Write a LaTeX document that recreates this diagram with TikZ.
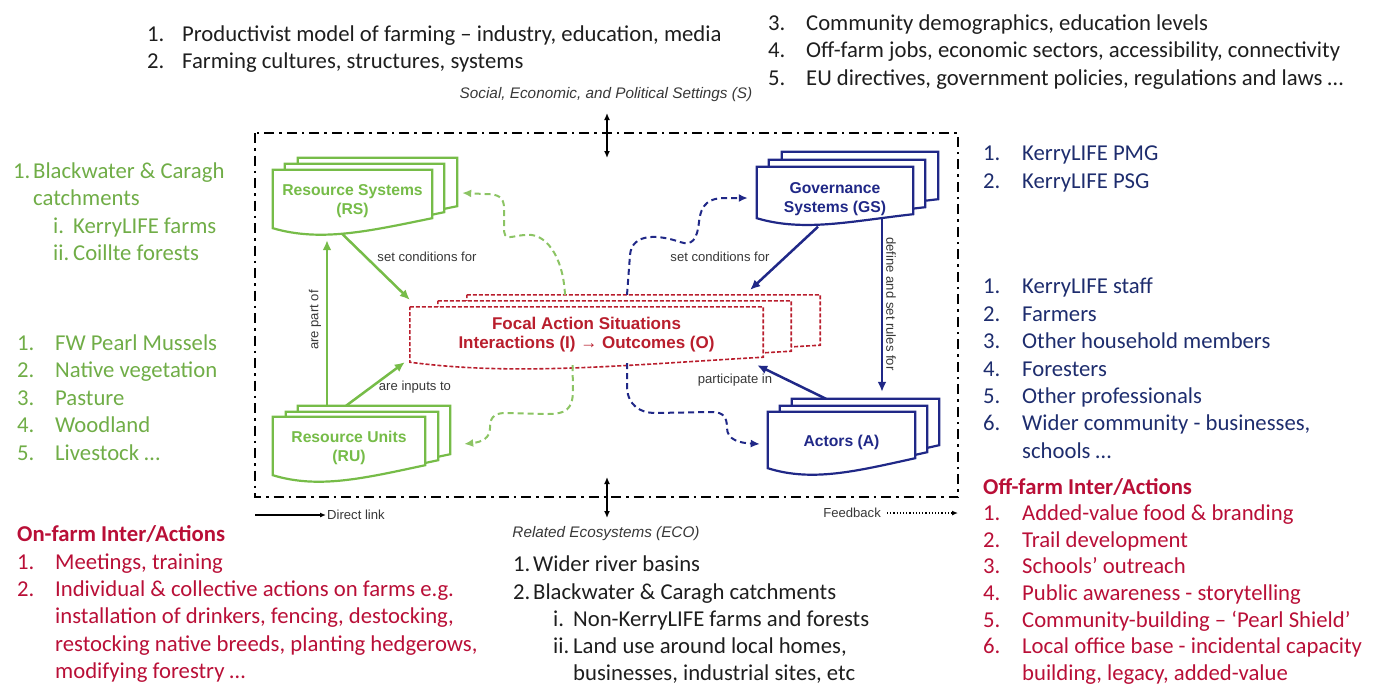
\documentclass[tikz,border=0pt]{standalone}
\usepackage{fontspec}
\setmainfont{Carlito}
\newfontfamily\arialfont{Liberation Sans}
\usetikzlibrary{positioning, calc, backgrounds, arrows.meta}

\definecolor{rsgreen}{RGB}{118,188,72}
\definecolor{fbgreen}{RGB}{140,196,100}
\definecolor{listgreen}{RGB}{112,173,71}
\definecolor{gsblue}{RGB}{32,40,135}
\definecolor{listblue}{RGB}{30,45,110}
\definecolor{focred}{RGB}{185,30,45}
\definecolor{listred}{RGB}{185,15,55}
\definecolor{lblgray}{RGB}{55,55,55}
\definecolor{txtblack}{RGB}{30,30,30}

\newcommand{\itm}[3][38pt]{\makebox[#1][l]{#2}#3}
\newcommand{\docpath}[3]{%
    ($(#1.north west)+(#2)$) -- ($(#1.north east)+(#2)$)
    -- ($(#1.south east)+(#2)+(0,-#3)$)
    .. controls ($(#1.south west)!0.6!(#1.south east)+(#2)+(0,3)$)
    and ($(#1.south west)!0.3!(#1.south east)+(#2)+(0,14)$)
    .. ($(#1.south west)+(#2)$) -- cycle}
\newcommand{\docstack}[6]{%
    \begin{scope}[on background layer]
        \filldraw[#2, fill=white] \docpath{#1}{#6}{#3};
        \filldraw[#2, fill=white] \docpath{#1}{#5}{#3};
        \filldraw[#2, fill=white] \docpath{#1}{#4}{#3};
    \end{scope}}

\tikzset{
    docbox/.style={
        rectangle,
        inner sep=0pt,
        align=center,
        font={\arialfont\bfseries\fontsize{15.7}{19.5}\selectfont}
    },
    rsbox/.style={
        draw=rsgreen,
        line width=2.2pt
    },
    gsbox/.style={
        draw=gsblue,
        line width=2.2pt
    },
    focbox/.style={
        draw=focred,
        line width=1.6pt,
        dash pattern=on 4pt off 2pt
    },
    link/.style={
        line width=2.5pt,
        -{Latex[length=10pt,width=9pt]}
    },
    fback/.style={
        line width=2pt,
        dash pattern=on 6pt off 4pt,
        -{Latex[length=9pt,width=8pt]}
    },
    lbl/.style={
        font={\arialfont\fontsize{13.1}{15}\selectfont},
        text=lblgray,
        inner sep=1pt
    },
    setlbl/.style={
        font={\arialfont\itshape\fontsize{15.3}{17}\selectfont},
        text=lblgray,
        inner sep=0pt
    },
    lst/.style={
        anchor=north west,
        align=left,
        inner sep=0pt,
        font={\fontsize{22.7}{27.4}\selectfont}
    },
    sysframe/.style={
        line width=2.5pt,
        dash pattern=on 10pt off 5pt on 2.5pt off 5pt
    }
}

\begin{document}
\begin{tikzpicture}[x=1pt, y=-1pt]
\useasboundingbox (0,0) rectangle (1377,686);

% lists
\node[lst, text=txtblack] (toplft) at (147,25.5) {\itm[35pt]{1.}{Productivist model of farming – industry, education, media}\\
    \itm[35pt]{2.}{Farming cultures, structures, systems}};
\node[lst, text=txtblack] (toprgt) at (768,14.5) {\itm{3.}{Community demographics, education levels}\\
    \itm{4.}{Off-farm jobs, economic sectors, accessibility, connectivity}\\
    \itm{5.}{EU directives, government policies, regulations and laws …}};
\node[lst, text=listgreen] (rslst) at (13,162.5) {\itm[20pt]{1.}{Blackwater \& Caragh}\\
    \hspace*{20pt}catchments\\
    \hspace*{40pt}\itm[20pt]{i.}{KerryLIFE farms}\\
    \hspace*{40pt}\itm[20pt]{ii.}{Coillte forests}};
\node[lst, text=listgreen] (rulst) at (17,334.5) {\itm{1.}{FW Pearl Mussels}\\
    \itm{2.}{Native vegetation}\\
    \itm{3.}{Pasture}\\
    \itm{4.}{Woodland}\\
    \itm{5.}{Livestock …}};
\node[lst, text=listblue] (gslst) at (983,146) {\itm[39pt]{1.}{KerryLIFE PMG}\\
    \itm[39pt]{2.}{KerryLIFE PSG}};
\node[lst, text=listblue] (actlst) at (983,278) {\itm[39pt]{1.}{KerryLIFE staff}\\
    \itm[39pt]{2.}{Farmers}\\
    \itm[39pt]{3.}{Other household members}\\
    \itm[39pt]{4.}{Foresters}\\
    \itm[39pt]{5.}{Other professionals}\\
    \itm[39pt]{6.}{Wider community - businesses,}\\
    \hspace*{39pt}schools …};
\node[lst, text=listred] (onlst) at (17,525.5) {\textbf{On-farm Inter/Actions}\\
    \itm{1.}{Meetings, training}\\
    \itm{2.}{Individual \& collective actions on farms e.g.}\\
    \hspace*{38pt}installation of drinkers, fencing, destocking,\\
    \hspace*{38pt}restocking native breeds, planting hedgerows,\\
    \hspace*{38pt}modifying forestry …};
\node[lst, text=txtblack, font={\fontsize{22.7}{27.1}\selectfont}] (ecolst) at (513,556) {\itm[20pt]{1.}{Wider river basins}\\
    \itm[20pt]{2.}{Blackwater \& Caragh catchments}\\
    \hspace*{40pt}\itm[20pt]{i.}{Non-KerryLIFE farms and forests}\\
    \hspace*{40pt}\itm[20pt]{ii.}{Land use around local homes,}\\
    \hspace*{60pt}businesses, industrial sites, etc};
\node[lst, text=listred, font={\fontsize{22.7}{26.6}\selectfont}] (offlst) at (983,478) {\textbf{Off-farm Inter/Actions}\\
    \itm[39pt]{1.}{Added-value food \& branding}\\
    \itm[39pt]{2.}{Trail development}\\
    \itm[39pt]{3.}{Schools’ outreach}\\
    \itm[39pt]{4.}{Public awareness - storytelling}\\
    \itm[39pt]{5.}{Community-building – ‘Pearl Shield’}\\
    \itm[39pt]{6.}{Local office base - incidental capacity}\\
    \hspace*{39pt}building, legacy, added-value};

% settings frame
\draw[sysframe] (255,133) rectangle (958,497);
\node[setlbl] (sset) at (606,95) {Social, Economic, and Political Settings (S)};
\node[setlbl] (eco) at (606,534) {Related Ecosystems (ECO)};
\coordinate (sUp) at (607,113);
\coordinate (sDn) at (607,158);
\coordinate (eUp) at (607,477);
\coordinate (eDn) at (607,518);
\draw[line width=1.5pt, {Latex[length=7pt,width=6pt]}-{Latex[length=7pt,width=6pt]}] (sUp) -- (sDn);
\draw[line width=1.5pt, {Latex[length=7pt,width=6pt]}-{Latex[length=7pt,width=6pt]}] (eUp) -- (eDn);

% core subsystems
\node[docbox, text=rsgreen, minimum width=159pt, minimum height=58pt] (rs) at (352.5,201) {Resource Systems\\(RS)};
\node[docbox, text=gsblue, minimum width=156pt, minimum height=51pt] (gs) at (835,199) {Governance\\Systems (GS)};
\node[docbox, text=rsgreen, minimum width=152pt, minimum height=58pt] (ru) at (349,448) {Resource Units\\(RU)};
\node[docbox, text=gsblue, minimum width=147pt, minimum height=56pt] (act) at (841.5,442) {Actors (A)};
\node[docbox, text=focred, minimum width=353pt, minimum height=55pt,
    font={\arialfont\bfseries\fontsize{17}{19.5}\selectfont}] (foc) at (586.5,334.5) {Focal Action Situations\\Interactions (I) → Outcomes (O)};
\docstack{rs}{rsbox}{10}{0,-2}{12,-8}{25,-14}
\docstack{gs}{gsbox}{4}{0,-6.5}{12,-13.5}{25,-21.5}
\docstack{ru}{rsbox}{10}{0,-2}{13,-7}{25,-13}
\docstack{act}{gsbox}{10}{0,-2}{12,-8}{24,-15}
\docstack{foc}{focbox}{5}{0,0}{28,-6}{57,-12}

% direct links
\draw[link, rsgreen] ($(rs.south)+(-10,4)$) -- ($(foc.north west)+(0,-7)$);
\draw[link, rsgreen] ($(ru.north)+(-22,-13)$) -- ($(rs.south)+(-25.5,10)$);
\draw[link, rsgreen] ($(ru.north)+(-3,-13)$) -- ($(foc.south west)+(-5,0)$);
\draw[link, gsblue] ($(gs.south)+(-17,2)$) -- ($(foc.north east)+(-13,-17)$);
\draw[link, gsblue] ($(gs.south)+(47,-6)$) -- ($(act.north)+(40.5,-22)$);
\draw[link, gsblue] ($(act.north)+(-15.5,-15)$) -- ($(foc.south east)+(-6,3)$);
\node[lbl] (scrs) at (427,257) {set conditions for};
\node[lbl, rotate=90] (partof) at (315,320) {are part of};
\node[lbl] (inputs) at (415,387) {are inputs to};
\node[lbl] (scgs) at (720,257) {set conditions for};
\node[lbl, rotate=-90] (rules) at (891,304) {define and set rules for};
\node[lbl] (partin) at (735,380) {participate in};

% feedbacks
\draw[fback, fbgreen] ($(foc.north)+(-21.5,-12)$) .. controls (563,255) and (545,232) .. (525,235)
    .. controls (510,236) and (504,242) .. (504,228) -- (504,208)
    .. controls (504,197) and (498,194) .. (485,194) -- ($(rs.east)+(30,-8)$);
\draw[fback, fbgreen] ($(foc.south)+(-14,3)$) -- (573,390) .. controls (573,410) and (565,414) .. (548,414)
    -- (505,413) .. controls (492,413) and (490,420) .. (490,428)
    .. controls (490,438) and (482,442) .. ($(ru.east)+(39,-4)$);
\draw[fback, gsblue] ($(foc.north)+(40.5,-12)$) -- (630,255) .. controls (632,232) and (660,235) .. (680,242)
    .. controls (692,246) and (697,240) .. (699,222)
    .. controls (701,203) and (710,198) .. (725,198) -- ($(gs.west)+(-9,-1)$);
\draw[fback, gsblue] ($(foc.south)+(40.5,1)$) -- (627,388) .. controls (628,405) and (640,413) .. (655,413)
    -- (712,412) .. controls (724,412) and (727,418) .. (727,428)
    .. controls (727,440) and (740,443) .. ($(act.west)+(-8,2)$);

% legend
\node[lbl, anchor=west] (direct) at (326,515) {Direct link};
\draw[line width=1.2pt, -{Latex[length=6pt,width=5pt]}] ($(direct.west)+(-71,0)$) -- (direct.west);
\node[lbl, anchor=east] (fdbk) at (882,513) {Feedback};
\draw[line width=1.2pt, dotted, -{Latex[length=6pt,width=5pt]}] ([xshift=5pt]fdbk.east) -- ++(71,0);

\end{tikzpicture}
\end{document}
